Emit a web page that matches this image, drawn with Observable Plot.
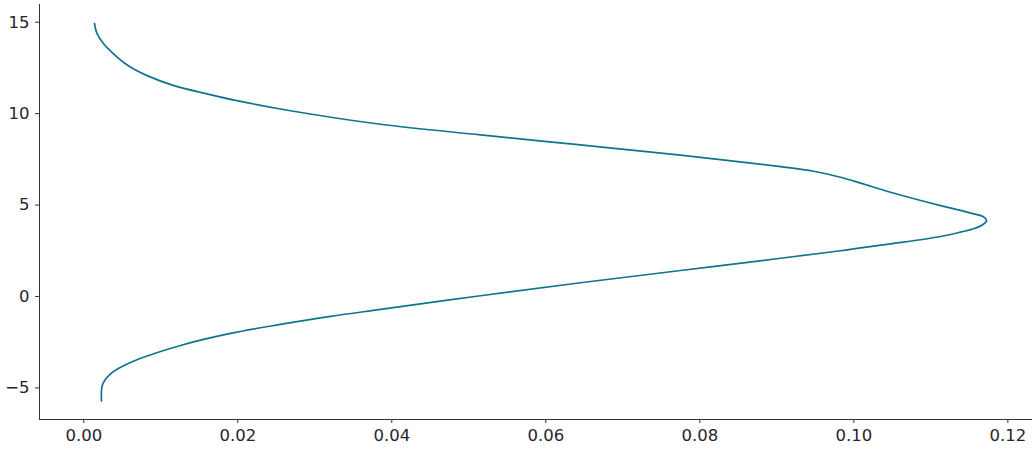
<!DOCTYPE html>
<html>
<head>
<meta charset="utf-8">
<script src="https://cdn.jsdelivr.net/npm/d3@7"></script>
<script src="https://cdn.jsdelivr.net/npm/@observablehq/plot@0.6"></script>
<style>
  html, body { margin: 0; padding: 0; background: #fff; }
  #chart svg { display: block; overflow: visible; }
  #chart svg text { font-family: "DejaVu Sans", sans-serif !important; font-size: 16.5px !important; fill: #262626; }
</style>
</head>
<body>
<div id="chart"></div>
<script>
// Density (x) against value (y), ordered top to bottom
const density = [0.00139, 0.00174, 0.00260, 0.00390, 0.00519, 0.00649, 0.00823, 0.01169, 0.01603, 0.02035,
  0.02684, 0.03853, 0.05152, 0.06451, 0.07750, 0.09048, 0.09477, 0.09827, 0.10087, 0.10477,
  0.11126, 0.11386, 0.11555, 0.11682, 0.11724, 0.11682, 0.11555, 0.11386, 0.11126, 0.10477,
  0.10087, 0.09827, 0.09048, 0.07750, 0.06451, 0.05152, 0.03853, 0.03204, 0.02554, 0.01905,
  0.01256, 0.00606, 0.00347, 0.00249, 0.00230, 0.00230];
const value = [14.93, 14.36, 13.81, 13.26, 12.80, 12.44, 12.08, 11.53, 11.08, 10.67,
  10.16, 9.42, 8.84, 8.29, 7.73, 7.10, 6.85, 6.52, 6.20, 5.70,
  4.97, 4.71, 4.52, 4.36, 4.16, 3.95, 3.70, 3.52, 3.28, 2.88,
  2.66, 2.50, 2.09, 1.42, 0.75, 0.04, -0.71, -1.09, -1.53, -2.02,
  -2.68, -3.61, -4.23, -4.75, -5.14, -5.72];
const xTicks = [0, 0.02, 0.04, 0.06, 0.08, 0.10, 0.12];
const yTicks = [-5, 0, 5, 10, 15];
const xDomain = [-0.00575, 0.1232];
const yDomain = [-6.73, 15.97];

const data = density.map((d, i) => ({x: d, y: value[i]}));

const chart = Plot.plot({
  width: 1035,
  height: 450,
  marginLeft: 39,
  marginRight: 3,
  marginTop: 4,
  marginBottom: 31,
  style: {fontFamily: "DejaVu Sans", fontSize: "16.5px", color: "#262626", background: "#fff"},
  x: {domain: xDomain},
  y: {domain: yDomain},
  marks: [
    Plot.axisX({ticks: xTicks, tickFormat: d3.format(".2f"), tickSize: 4, tickPadding: 6, label: null, stroke: "#333", fill: "#262626"}),
    Plot.axisY({ticks: yTicks, tickFormat: d => d < 0 ? "\u2212" + Math.abs(d) : String(d), tickSize: 4, tickPadding: 6, label: null, stroke: "#333", fill: "#262626"}),
    Plot.ruleX([xDomain[0]], {stroke: "#333", strokeWidth: 1}),
    Plot.ruleY([yDomain[0]], {stroke: "#333", strokeWidth: 1}),
    Plot.line(data, {x: "x", y: "y", curve: "catmull-rom", stroke: "#11748f", strokeWidth: 1.7})
  ]
});
document.getElementById("chart").appendChild(chart);
</script>
</body>
</html>
